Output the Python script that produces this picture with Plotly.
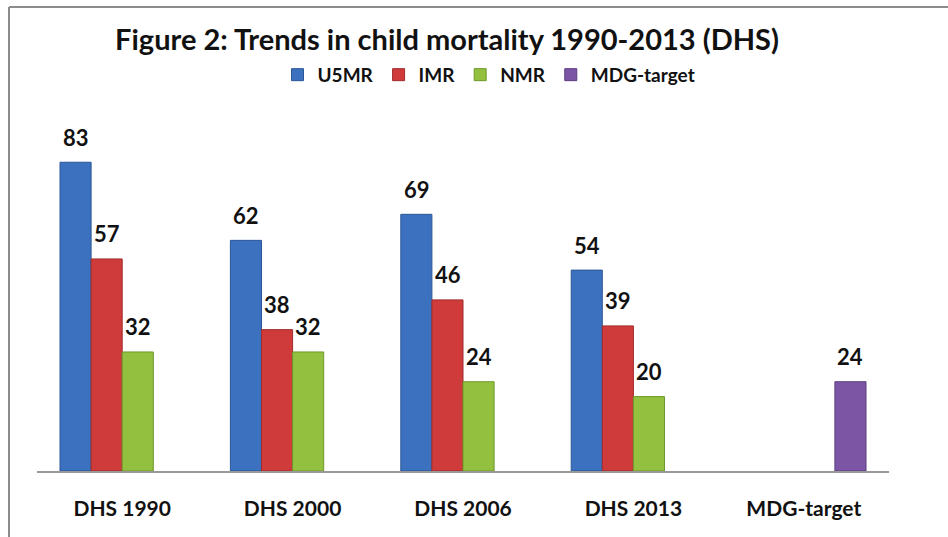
import plotly.graph_objects as go

CATEGORIES = ['DHS 1990', 'DHS 2000', 'DHS 2006', 'DHS 2013', 'MDG-target']
U5MR = [83, 62, 69, 54, None]
IMR = [57, 38, 46, 39, None]
NMR = [32, 32, 24, 20, None]
MDG_TARGET = [None, None, None, None, 24]

SERIES = [
    ('U5MR', U5MR, '#3c71bf', '#2b5796'),
    ('IMR', IMR, '#cf3b3b', '#a12b2b'),
    ('NMR', NMR, '#93c03e', '#6e982a'),
    ('MDG-target', MDG_TARGET, '#7c56a5', '#5b3d80'),
]

FONT = 'Lato, "Open Sans", sans-serif'
BAR_PX = 31  # bar width in pixels, used to shift value labels over each bar

fig = go.Figure()

for i, (name, values, color, edge) in enumerate(SERIES):
    fig.add_trace(go.Bar(
        name=name,
        x=CATEGORIES,
        y=values,
        marker=dict(color=color, line=dict(color=edge, width=1)),
    ))
    # value labels, a bit higher above the bar than textposition='outside'
    for cat, v in zip(CATEGORIES, values):
        if v is None:
            continue
        fig.add_annotation(
            x=cat, y=v,
            text=str(v),
            showarrow=False,
            xshift=(i - 1.5) * BAR_PX,
            yshift=25,
            yanchor='middle',
            font=dict(size=22, family=FONT, color='#111111', weight='bold'),
        )

fig.update_layout(
    width=948,
    height=537,
    barmode='group',
    bargap=0.27,
    bargroupgap=0,
    plot_bgcolor='white',
    paper_bgcolor='white',
    font=dict(family=FONT, color='#111111'),
    margin=dict(l=37, r=59, t=99, b=66),
    title=dict(
        text='Figure 2: Trends in child mortality 1990-2013 (DHS)',
        x=447 / 948,
        xanchor='center',
        y=1 - 40 / 537,
        yanchor='middle',
        font=dict(size=29, family=FONT, color='#111111', weight='bold'),
    ),
    legend=dict(
        orientation='h',
        x=(489 - 37) / 852,
        xanchor='center',
        y=1.065,
        yanchor='middle',
        font=dict(size=19, family=FONT, color='#111111', weight='bold'),
        traceorder='normal',
    ),
    showlegend=True,
)

fig.update_xaxes(
    showline=True,
    linecolor='#999999',
    linewidth=1.5,
    ticks='',
    tickfont=dict(size=21, family=FONT, color='#111111', weight='bold'),
    ticklabelstandoff=18,
    showgrid=False,
)
fig.update_yaxes(
    range=[0, 100],
    visible=False,
    showgrid=False,
)

# chart-area border (only left and top edges show in the reference)
border = dict(color='#8c8c8c', width=2)
fig.add_shape(type='line', xref='paper', yref='paper',
              x0=(9 - 37) / 852, x1=(9 - 37) / 852,
              y0=(471 - 540) / 372, y1=1 + (99 - 7) / 372, line=border)
fig.add_shape(type='line', xref='paper', yref='paper',
              x0=(9 - 37) / 852, x1=(950 - 37) / 852,
              y0=1 + (99 - 7) / 372, y1=1 + (99 - 7) / 372, line=border)

# page body margin would otherwise push the figure 8px right and down
fig.write_html(
    'out.html',
    config={'displayModeBar': False},
    post_script="document.body.style.margin='0';",
)
